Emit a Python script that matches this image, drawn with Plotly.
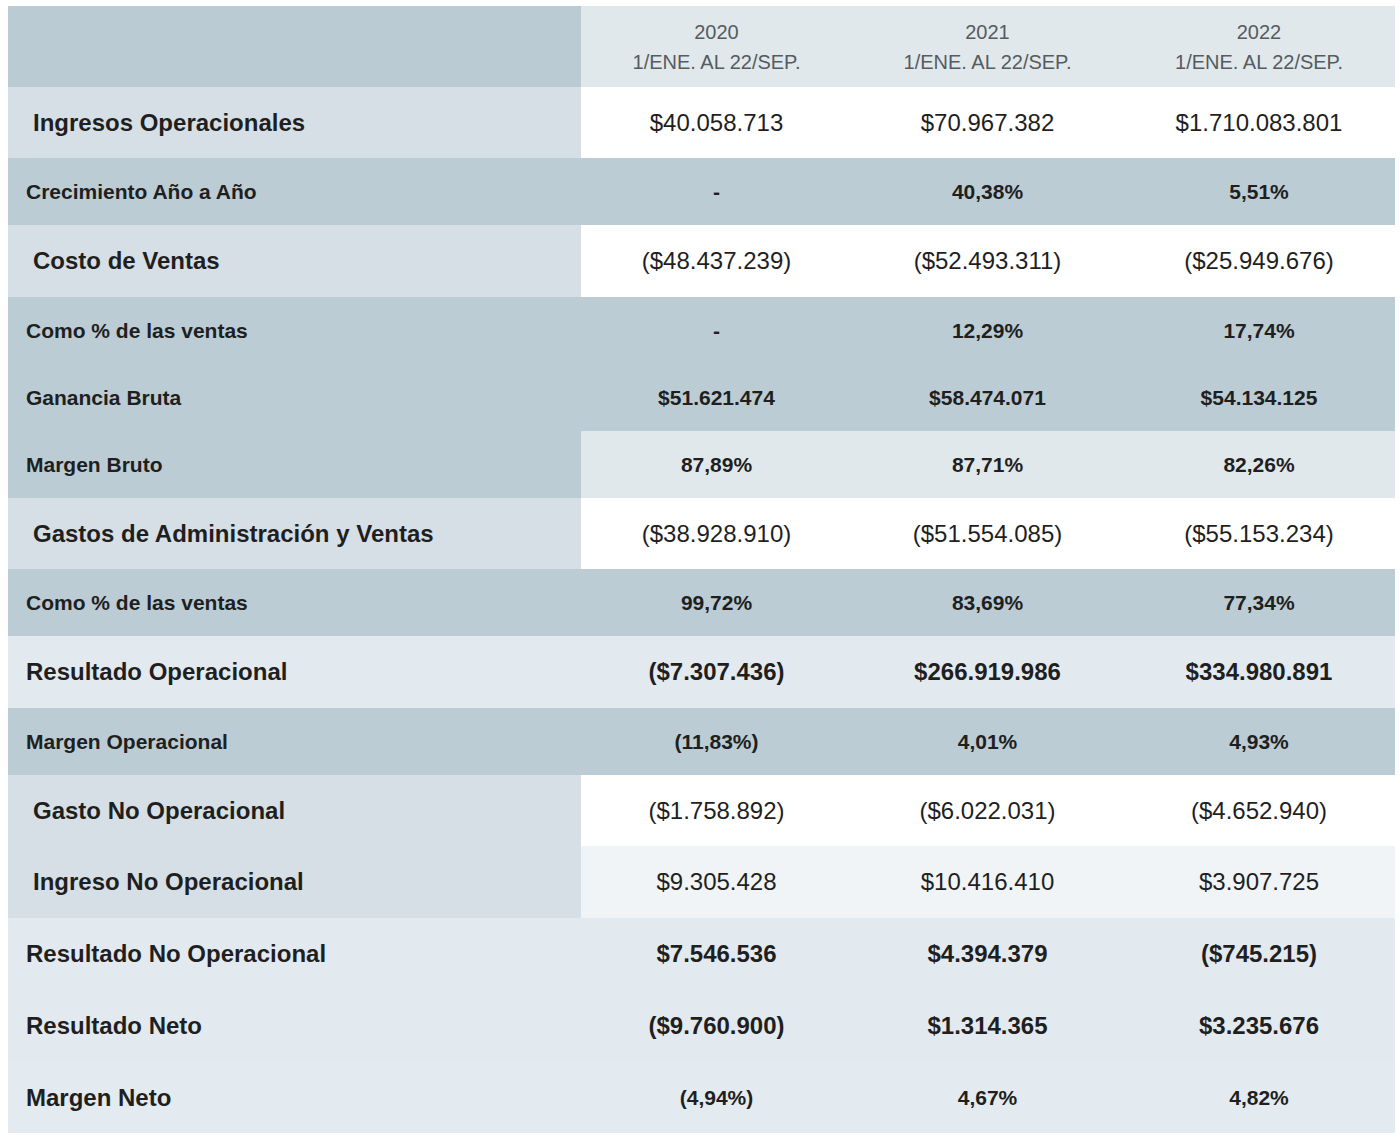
import plotly.graph_objects as go

# ---------------- data ----------------
years = ["2020", "2021", "2022"]
period = "1/ENE. AL 22/SEP."

row_labels = [
    "Ingresos Operacionales",
    "Crecimiento Año a Año",
    "Costo de Ventas",
    "Como % de las ventas",
    "Ganancia Bruta",
    "Margen Bruto",
    "Gastos de Administración y Ventas",
    "Como % de las ventas",
    "Resultado Operacional",
    "Margen Operacional",
    "Gasto No Operacional",
    "Ingreso No Operacional",
    "Resultado No Operacional",
    "Resultado Neto",
    "Margen Neto",
]

values_2020 = ["$40.058.713", "-", "($48.437.239)", "-", "$51.621.474", "87,89%",
               "($38.928.910)", "99,72%", "($7.307.436)", "(11,83%)", "($1.758.892)",
               "$9.305.428", "$7.546.536", "($9.760.900)", "(4,94%)"]
values_2021 = ["$70.967.382", "40,38%", "($52.493.311)", "12,29%", "$58.474.071", "87,71%",
               "($51.554.085)", "83,69%", "$266.919.986", "4,01%", "($6.022.031)",
               "$10.416.410", "$4.394.379", "$1.314.365", "4,67%"]
values_2022 = ["$1.710.083.801", "5,51%", "($25.949.676)", "17,74%", "$54.134.125", "82,26%",
               "($55.153.234)", "77,34%", "$334.980.891", "4,93%", "($4.652.940)",
               "$3.907.725", "($745.215)", "$3.235.676", "4,82%"]

row_kinds = ["main", "sub", "main", "sub", "sub", "bruto", "main", "sub", "total",
             "sub", "main", "main_alt", "total", "total", "net"]

# ---------------- styles ----------------
FONT = "Liberation Sans, Arial, Helvetica, sans-serif"
TEXT = "#1f1f1f"
HEADER_TEXT = "#555b5e"
COL_WIDTHS = [573, 271, 271, 272]
HEADER_H = 81
ROW_HEIGHTS = [71, 67, 72, 67, 67, 67, 71, 67, 72, 67, 71, 72, 72, 72, 71]
HEADER_LINE_OFFSETS = (-13.0, 17.5)
TEXT_DY = 2.0

PALETTE = [
    "#BACBD3",  # 0 header label cell
    "#E1E8EC",  # 1 header year cells
    "#D6DFE5",  # 2 main label cells
    "#FFFFFF",  # 3 white value cells
    "#BBCCD4",  # 4 sub rows
    "#E1E8EC",  # 5 margen bruto values
    "#E3EAEF",  # 6 total rows
    "#F0F4F6",  # 7 ingreso no operacional values
    "#E4EBF0",  # 8 bottom rows
]

KIND_STYLE = {
    "main":     dict(lf=2, vf=3, ls=24, vs=24, vb=False, indent=25),
    "main_alt": dict(lf=2, vf=7, ls=24, vs=24, vb=False, indent=25),
    "sub":      dict(lf=4, vf=4, ls=21, vs=21, vb=True, indent=18),
    "bruto":    dict(lf=4, vf=5, ls=21, vs=21, vb=True, indent=18),
    "total":    dict(lf=6, vf=6, ls=24, vs=24, vb=True, indent=18),
    "net":      dict(lf=8, vf=8, ls=24, vs=21, vb=True, indent=18),
}

# ---------------- geometry derived from styles ----------------
x_edges = [0]
for w in COL_WIDTHS:
    x_edges.append(x_edges[-1] + w)
col_centers = [(x_edges[i] + x_edges[i + 1]) / 2 for i in range(len(COL_WIDTHS))]

y_edges = [0, HEADER_H]
for h in ROW_HEIGHTS:
    y_edges.append(y_edges[-1] + h)
row_centers = [(y_edges[i + 1] + y_edges[i + 2]) / 2 + TEXT_DY for i in range(len(ROW_HEIGHTS))]
header_center = HEADER_H / 2

# ---------------- cell fills (heatmap) ----------------
z = [[0, 1, 1, 1]]
for k in row_kinds:
    s = KIND_STYLE[k]
    z.append([s["lf"], s["vf"], s["vf"], s["vf"]])

n = len(PALETTE)
colorscale = [[i / (n - 1), c] for i, c in enumerate(PALETTE)]

fig = go.Figure()
fig.add_trace(go.Heatmap(
    z=z, x=x_edges, y=y_edges, zmin=0, zmax=n - 1,
    colorscale=colorscale, showscale=False, hoverinfo="skip", xgap=0, ygap=0,
))

# ---------------- header text ----------------
fig.add_trace(go.Scatter(
    x=col_centers[1:], y=[header_center + HEADER_LINE_OFFSETS[0]] * 3,
    mode="text", text=years, textposition="middle center",
    textfont=dict(family=FONT, size=20, color=HEADER_TEXT), hoverinfo="skip",
))
fig.add_trace(go.Scatter(
    x=col_centers[1:], y=[header_center + HEADER_LINE_OFFSETS[1]] * 3,
    mode="text", text=[period] * 3, textposition="middle center",
    textfont=dict(family=FONT, size=20, color=HEADER_TEXT), hoverinfo="skip",
))

# ---------------- row labels ----------------
fig.add_trace(go.Scatter(
    x=[KIND_STYLE[k]["indent"] for k in row_kinds], y=row_centers,
    mode="text", text=["<b>" + t + "</b>" for t in row_labels],
    textposition="middle right",
    textfont=dict(family=FONT, size=[KIND_STYLE[k]["ls"] for k in row_kinds], color=TEXT),
    hoverinfo="skip",
))

# ---------------- values ----------------
for ci, vals in enumerate([values_2020, values_2021, values_2022]):
    txt = [("<b>" + v + "</b>") if KIND_STYLE[k]["vb"] else v for v, k in zip(vals, row_kinds)]
    fig.add_trace(go.Scatter(
        x=[col_centers[ci + 1]] * len(vals), y=row_centers,
        mode="text", text=txt, textposition="middle center",
        textfont=dict(family=FONT, size=[KIND_STYLE[k]["vs"] for k in row_kinds], color=TEXT),
        hoverinfo="skip",
    ))

fig.update_layout(
    width=1400, height=1140,
    margin=dict(l=0, r=0, t=0, b=0),
    paper_bgcolor="white", plot_bgcolor="white",
    showlegend=False,
    xaxis=dict(visible=False, range=[0, x_edges[-1]], domain=[8 / 1400, 1395 / 1400], fixedrange=True),
    yaxis=dict(visible=False, range=[y_edges[-1], 0], domain=[7 / 1140, 1134 / 1140], fixedrange=True),
)

fig.write_html(
    "out.html",
    config={"displayModeBar": False},
    post_script="document.body.style.margin='0px';document.body.style.overflow='hidden';",
)
